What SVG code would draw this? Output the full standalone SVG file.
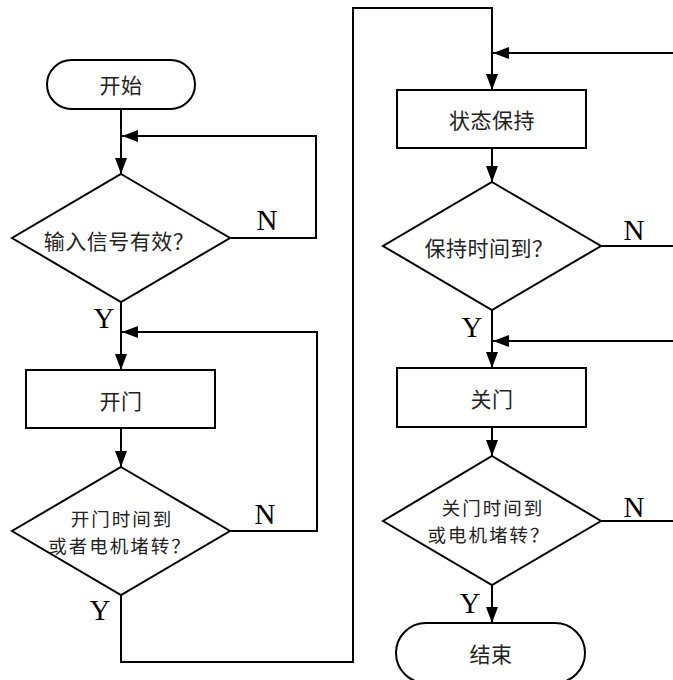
<svg xmlns="http://www.w3.org/2000/svg" width="673" height="680" viewBox="0 0 673 680">
<defs>
<marker id="ah" markerUnits="userSpaceOnUse" markerWidth="18" markerHeight="14" refX="16" refY="6" orient="auto">
<path d="M0,0 L16,6 L0,12 Z" fill="#000"/>
</marker>
<style>
.shape{fill:#fff;stroke:#000;stroke-width:2}
.conn{fill:none;stroke:#000;stroke-width:2}
.cn{font-family:"Noto Sans CJK SC","Noto Sans",sans-serif;font-size:21px;letter-spacing:0.5px;fill:#222;text-anchor:middle;dominant-baseline:central}
.cn2{font-size:18.5px;letter-spacing:2px}
.yn{font-family:"Liberation Serif","Times New Roman",serif;font-size:29px;fill:#000;text-anchor:middle}
</style>
</defs>
<rect width="673" height="680" fill="#fff"/>
<g id="connectors">
<path class="conn" d="M121,109 V174" marker-end="url(#ah)"/>
<path class="conn" d="M230,238 H316 V136 H122" marker-end="url(#ah)"/>
<path class="conn" d="M121,302 V370" marker-end="url(#ah)"/>
<path class="conn" d="M121,428 V467" marker-end="url(#ah)"/>
<path class="conn" d="M230,531 H317 V332 H122" marker-end="url(#ah)"/>
<path class="conn" d="M121,595 V662 H353 V8 H492 V90" marker-end="url(#ah)"/>
<path class="conn" d="M492,148 V182" marker-end="url(#ah)"/>
<path class="conn" d="M601,246 H690 V53 H493" marker-end="url(#ah)"/>
<path class="conn" d="M492,310 V368" marker-end="url(#ah)"/>
<path class="conn" d="M492,427 V456" marker-end="url(#ah)"/>
<path class="conn" d="M601,521 H690 V341 H493" marker-end="url(#ah)"/>
<path class="conn" d="M492,585 V623" marker-end="url(#ah)"/>
<text class="yn" x="267" y="230">N</text>
<text class="yn" x="104" y="328">Y</text>
<text class="yn" x="265" y="524">N</text>
<text class="yn" x="100" y="620">Y</text>
<text class="yn" x="634" y="240">N</text>
<text class="yn" x="472" y="337">Y</text>
<text class="yn" x="634" y="517">N</text>
<text class="yn" x="470" y="613">Y</text>
</g>
<g id="start">
<rect class="shape" x="47" y="60" width="148" height="49" rx="24.5"/>
<text class="cn" x="121" y="84">开始</text>
</g>
<g id="d1">
<polygon class="shape" points="121,174 230,238 121,302 12,238"/>
<text class="cn" x="119" y="240">输入信号有效？</text>
</g>
<g id="open">
<rect class="shape" x="26" y="370" width="189" height="58"/>
<text class="cn" x="121" y="400">开门</text>
</g>
<g id="d2">
<polygon class="shape" points="121,467 230,531 121,595 12,531"/>
<text class="cn cn2" x="122" y="518">开门时间到</text>
<text class="cn cn2" x="120" y="545">或者电机堵转？</text>
</g>
<g id="hold">
<rect class="shape" x="397" y="90" width="189" height="58"/>
<text class="cn" x="492" y="119">状态保持</text>
</g>
<g id="d4">
<polygon class="shape" points="492,456 601,521 492,585 383,521"/>
<text class="cn cn2" x="493" y="507">关门时间到</text>
<text class="cn cn2" x="489" y="534">或电机堵转？</text>
</g>
<g id="d3">
<polygon class="shape" points="492,182 601,246 492,310 383,246"/>
<text class="cn" x="489" y="247">保持时间到？</text>
</g>
<g id="close">
<rect class="shape" x="397" y="368" width="189" height="59"/>
<text class="cn" x="492" y="398">关门</text>
</g>
<g id="end">
<rect class="shape" x="396" y="623" width="189" height="60" rx="30"/>
<text class="cn" x="491" y="653">结束</text>
</g>
</svg>
